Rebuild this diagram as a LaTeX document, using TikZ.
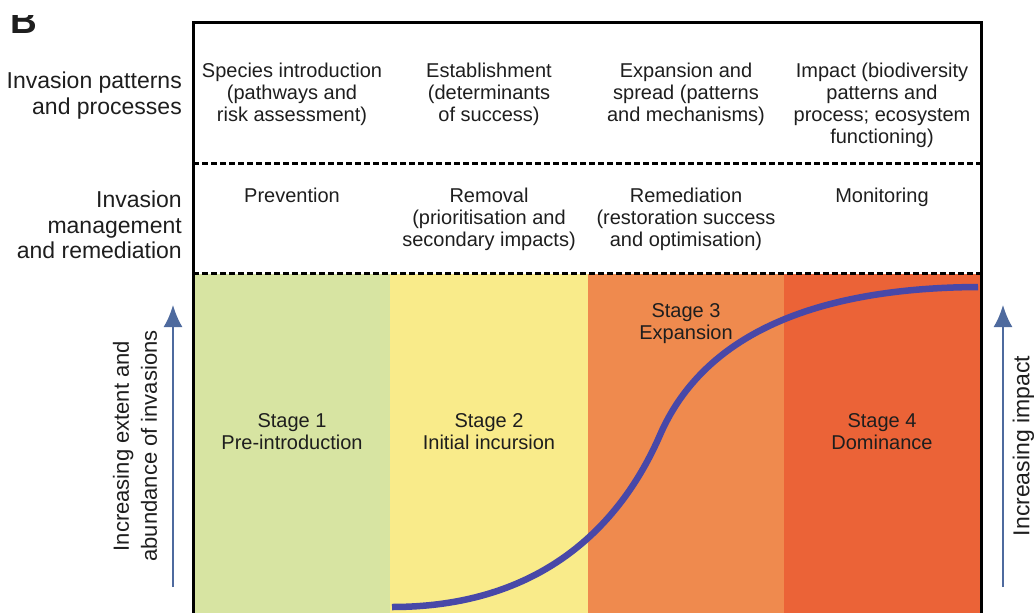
\documentclass[tikz,border=0pt]{standalone}
\usepackage{fontspec}
\setmainfont{Liberation Sans}
\usetikzlibrary{arrows.meta}

\definecolor{stageone}{HTML}{D7E4A2}
\definecolor{stagetwo}{HTML}{F9EB8A}
\definecolor{stagethree}{HTML}{EF8A4E}
\definecolor{stagefour}{HTML}{EB6337}
\definecolor{curveblue}{HTML}{4848A8}
\definecolor{axisblue}{HTML}{4E6A9E}
\definecolor{txt}{HTML}{1E1E1E}

\begin{document}
\begin{tikzpicture}[
    x=1pt, y=-1pt,
    every node/.style={font=\fontsize{20}{22}\selectfont, text=txt, inner sep=0pt},
    cell/.style={anchor=north, align=center},
    rowlabel/.style={anchor=north east, align=right, font=\fontsize{23}{25.5}\selectfont},
    divider/.style={dash pattern=on 6pt off 3pt, line width=3pt},
    axis/.style={-{Latex[length=22pt,width=19pt]}, line width=2pt, axisblue},
    sideways/.style={rotate=90, align=center, font=\fontsize{22}{28}\selectfont},
    ]
    \useasboundingbox (0,0) rectangle (1034,613);

    % panel letter, top half lost
    \begin{scope}
    \clip (0,15) rectangle (60,45);
    \node[anchor=base west, font=\fontsize{37}{40}\selectfont\bfseries] (panel) at (10,34) {B};
    \end{scope}

    % stage columns
    \foreach \xl/\xr/\col in {193/390/stageone, 390/588/stagetwo,
                              588/784/stagethree, 784/981/stagefour}{
    \fill[\col] (\xl,274) rectangle (\xr,640);
    }

    \draw[line width=3pt] (193,640) -- (193,22) -- (981,22) -- (981,640);
    \draw[divider] (193,163) -- (981,163);
    \draw[divider] (193,273) -- (981,273);

    % row headings
    \node[rowlabel] (patterns) at (182,72) {Invasion patterns\\and processes};
    \node[rowlabel] (management) at (182,191) {Invasion\\management\\and remediation};

    \node[cell] (intro) at (292,63) {Species introduction\\(pathways and\\risk assessment)};
    \node[cell] (estab) at (489,63) {Establishment\\(determinants\\of success)};
    \node[cell] (spread) at (686,63) {Expansion and\\spread (patterns\\and mechanisms)};
    \node[cell] (impact) at (882,63) {Impact (biodiversity\\patterns and\\process; ecosystem\\functioning)};

    \node[cell] (prevent) at (292,188) {Prevention};
    \node[cell] (removal) at (489,188) {Removal\\(prioritisation and\\secondary impacts)};
    \node[cell] (remedy) at (686,188) {Remediation\\(restoration success\\and optimisation)};
    \node[cell] (monitor) at (882,188) {Monitoring};

    % stages
    \node[cell] (stage1) at (292,413) {Stage 1\\Pre-introduction};
    \node[cell] (stage2) at (489,413) {Stage 2\\Initial incursion};
    \node[cell] (stage3) at (686,303) {Stage 3\\Expansion};
    \node[cell] (stage4) at (882,413) {Stage 4\\Dominance};

    % invasion curve
    \draw[curveblue, line width=6.5pt] (392,607)
        .. controls (540,607) and (620,527) .. (660,435)
        .. controls (700,343) and (800,288) .. (978,287);

    % side axes
    \coordinate (extentlow) at (173,587);
    \coordinate (extenthigh) at (173,305);
    \draw[axis] (extentlow) -- (extenthigh);
    \node[sideways] (extent) at (135,446) {Increasing extent and\\abundance of invasions};

    \coordinate (impactlow) at (1003,587);
    \coordinate (impacthigh) at (1003,305);
    \draw[axis] (impactlow) -- (impacthigh);
    \node[sideways, font=\fontsize{23}{25}\selectfont] (impactaxis) at (1023.5,446) {Increasing impact};

\end{tikzpicture}
\end{document}
